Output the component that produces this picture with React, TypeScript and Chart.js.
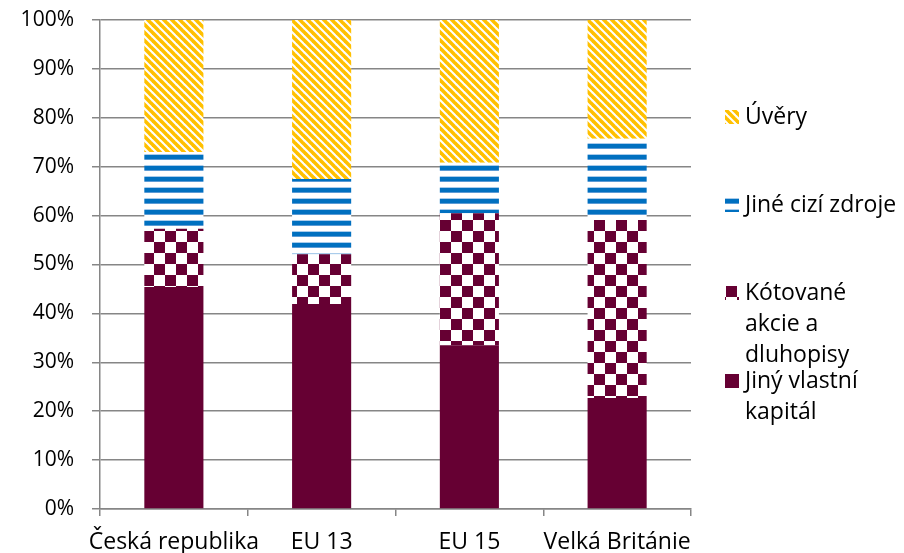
import React, { useEffect, useRef } from 'react';
import { Chart, registerables } from 'chart.js';

Chart.register(...registerables);

const categories = ['Česká republika', 'EU 13', 'EU 15', 'Velká Británie'];
const jinyVlastniKapital = [45.4, 41.9, 33.5, 22.7];
const kotovaneAkcie = [11.9, 10.2, 27.0, 36.4];
const jineCiziZdroje = [15.7, 15.4, 10.3, 16.6];
const uvery = [27.0, 32.5, 29.2, 24.3];
const seriesNames = ['Jiný vlastní kapitál', 'Kótované akcie a dluhopisy', 'Jiné cizí zdroje', 'Úvěry'];
const legendLines = [['Jiný vlastní', 'kapitál'], ['Kótované', 'akcie a', 'dluhopisy'], ['Jiné cizí zdroje'], ['Úvěry']];
const yTickSuffix = '%';

const FONT = '"Open Sans", Lato, sans-serif';
const FONT_SIZE = 21;
const TEXT_SIZE = 23;
const MAROON = '#660033';
const YELLOW = '#FFC000';
const BLUE = '#0070C0';
const GRID = '#868686';

function tile(w: number, h: number, draw: (c: CanvasRenderingContext2D) => void): CanvasPattern {
  const cv = document.createElement('canvas');
  cv.width = w;
  cv.height = h;
  const c = cv.getContext('2d')!;
  c.fillStyle = '#ffffff';
  c.fillRect(0, 0, w, h);
  draw(c);
  const main = document.createElement('canvas').getContext('2d')!;
  return main.createPattern(cv, 'repeat')!;
}

function makePatterns() {
  const diag = tile(8, 8, (c) => {
    c.strokeStyle = YELLOW;
    c.lineWidth = 3.6;
    for (let k = -1; k <= 1; k++) {
      c.beginPath();
      c.moveTo(k * 8 - 2, -2);
      c.lineTo(k * 8 + 10, 10);
      c.stroke();
    }
  });
  const horiz = tile(4, 11, (c) => {
    c.fillStyle = '#A9CCEB';
    c.fillRect(0, 0, 4, 1);
    c.fillStyle = BLUE;
    c.fillRect(0, 1, 4, 4);
    c.fillStyle = '#5B9BD5';
    c.fillRect(0, 5, 4, 1);
  });
  const checker = tile(22, 22, (c) => {
    c.fillStyle = MAROON;
    c.fillRect(0, 0, 11, 11);
    c.fillRect(11, 11, 11, 11);
  });
  return [MAROON as any, checker, horiz, diag];
}

export default function App() {
  const ref = useRef<HTMLCanvasElement>(null);

  useEffect(() => {
    document.body.style.margin = '0';
    const canvas = ref.current!;
    const fills = makePatterns();
    const values = [jinyVlastniKapital, kotovaneAkcie, jineCiziZdroje, uvery];

    const legendPlugin = {
      id: 'sideLegend',
      afterDraw(chart: any) {
        const ctx = chart.ctx as CanvasRenderingContext2D;
        ctx.save();
        ctx.font = `${TEXT_SIZE}px ${FONT}`;
        ctx.fillStyle = '#000';
        ctx.textBaseline = 'middle';
        ctx.textAlign = 'left';
        const order = [3, 2, 1, 0];
        const startY = 117;
        const step = 88;
        order.forEach((si, idx) => {
          const y = startY + idx * step;
          ctx.fillStyle = fills[si];
          ctx.fillRect(725, y - 7, 14, 14);
          ctx.fillStyle = '#000';
          legendLines[si].forEach((line, li) => {
            ctx.fillText(line, 745, y + li * 31);
          });
        });
        ctx.restore();
      },
    };

    const chart = new Chart(canvas, {
      type: 'bar',
      data: {
        labels: categories,
        datasets: seriesNames.map((name, i) => ({
          label: name,
          data: values[i],
          backgroundColor: fills[i],
          borderWidth: 0,
          categoryPercentage: 0.4,
          barPercentage: 1,
        })),
      },
      options: {
        responsive: false,
        animation: false,
        layout: { padding: { top: 20, right: 213, left: 0, bottom: 0 } },
        plugins: {
          legend: { display: false },
          tooltip: { enabled: false },
        },
        scales: {
          x: {
            stacked: true,
            offset: true,
            grid: {
              offset: true,
              drawOnChartArea: false,
              drawTicks: true,
              tickLength: 7,
              color: GRID,
              lineWidth: 1.5,
            },
            border: { color: GRID, width: 1.5 },
            ticks: {
              font: { family: FONT, size: TEXT_SIZE },
              color: '#000',
              padding: 13,
              maxRotation: 0,
              autoSkip: false,
            },
            afterFit: (s: any) => {
              s.height = 44;
              s.paddingLeft = 0;
              s.paddingRight = 0;
            },
          },
          y: {
            stacked: true,
            min: 0,
            max: 100,
            ticks: {
              stepSize: 10,
              callback: (v: any) => `${v}${yTickSuffix}`,
              font: { family: FONT, size: FONT_SIZE },
              color: '#000',
              padding: 18,
            },
            grid: { color: GRID, lineWidth: 1.5, tickLength: 8 },
            border: { color: GRID, width: 1.5 },
            afterFit: (s: any) => {
              s.width = 100;
              s.paddingTop = 0;
              s.paddingBottom = 0;
            },
          },
        },
      },
      plugins: [legendPlugin],
    });
    return () => chart.destroy();
  }, []);

  return <canvas ref={ref} width={904} height={553} style={{ display: 'block' }} />;
}
